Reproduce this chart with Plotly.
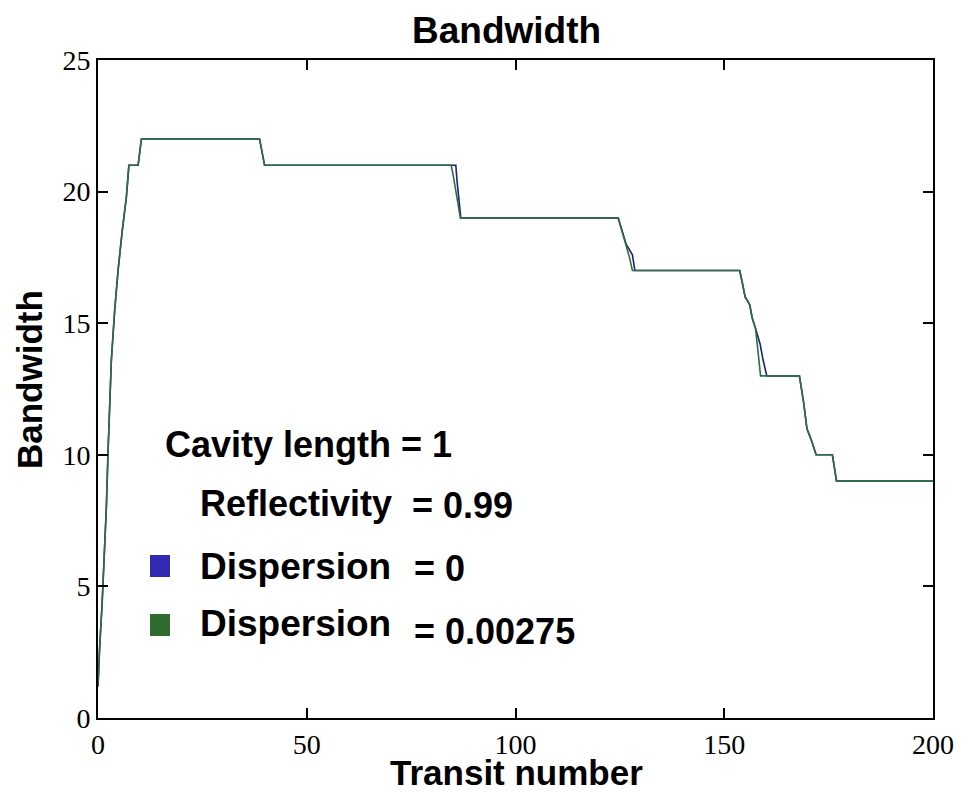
import plotly.graph_objects as go

# ---- data ----
green_x = [0, 0.2, 0.4, 1.0, 1.5, 2.0, 2.4, 2.8, 3.2, 4.0, 4.8, 5.8, 6.8, 7.4, 9.6, 10.4,
           38.7, 39.9, 84.6, 85.1, 85.6, 86.1, 86.8, 124.6, 125.5, 126.5, 127.3, 128.0,
           153.7, 154.4, 155.0, 156.1, 156.7, 157.5, 158.0, 158.7, 168.0, 169.0, 169.8,
           171.0, 172.0, 175.9, 176.9, 200]
green_y = [1.2, 2.0, 2.7, 4.4, 6.0, 8.0, 10.1, 11.8, 13.6, 15.5, 17.0, 18.5, 19.8, 21, 21, 22,
           22, 21, 21, 20.6, 20.1, 19.6, 19, 19, 18.5, 18, 17.5, 17,
           17, 16.5, 16, 15.7, 15.2, 14.8, 14, 13, 13, 12, 11,
           10.5, 10, 10, 9, 9]

blue_x = [0, 0.2, 0.4, 1.0, 1.5, 2.0, 2.4, 2.8, 3.2, 4.0, 4.8, 5.8, 6.8, 7.4, 9.6, 10.4,
          38.7, 39.9, 85.7, 86.0, 86.4, 86.9, 124.6, 125.5, 126.5, 128.0, 128.6,
          153.7, 154.4, 155.0, 156.1, 156.7, 157.5, 158.6, 159.3, 160.2, 168.0, 169.0, 169.8,
          171.0, 172.0, 175.9, 176.9, 200]
blue_y = [1.2, 2.0, 2.7, 4.4, 6.0, 8.0, 10.1, 11.8, 13.6, 15.5, 17.0, 18.5, 19.8, 21, 21, 22,
          22, 21, 21, 20.4, 19.8, 19, 19, 18.5, 18, 17.6, 17,
          17, 16.5, 16, 15.7, 15.2, 14.8, 14.2, 13.6, 13, 13, 12, 11,
          10.5, 10, 10, 9, 9]

x_ticks = [0, 50, 100, 150, 200]
y_ticks = [0, 5, 10, 15, 20, 25]

title_text = "Bandwidth"
x_title = "Transit number"
y_title = "Bandwidth"

BLUE_LINE = "#1e1e8a"
GREEN_LINE = "#2d6e3c"
BLUE_SQ = "#3329b5"
GREEN_SQ = "#2f6a2f"

fig = go.Figure()
fig.add_trace(go.Scatter(x=blue_x, y=blue_y, mode="lines",
                         line=dict(color=BLUE_LINE, width=1.6), name="Dispersion = 0"))
fig.add_trace(go.Scatter(x=green_x, y=green_y, mode="lines",
                         line=dict(color=GREEN_LINE, width=1.6), name="Dispersion = 0.00275"))

L, R, T, B = 98, 933, 60, 718
W, H = 968, 794
def px(xp):
    return (xp - L) / (R - L)
def py(yp):
    return (B - yp) / (B - T)

def bold(size):
    return dict(family="Liberation Sans, Arial, sans-serif", size=size, color="black", weight="bold")

ann = [
    dict(text="Cavity length = 1", x=px(163), y=py(444), xanchor="left", font=bold(36)),
    dict(text="Reflectivity", x=px(198), y=py(503), xanchor="left", font=bold(36)),
    dict(text="= 0.99", x=px(410), y=py(505), xanchor="left", font=bold(36)),
    dict(text="Dispersion", x=px(198), y=py(566), xanchor="left", font=bold(37)),
    dict(text="= 0", x=px(412), y=py(568), xanchor="left", font=bold(36)),
    dict(text="Dispersion", x=px(198), y=py(623), xanchor="left", font=bold(37)),
    dict(text="= 0.00275", x=px(412), y=py(631), xanchor="left", font=bold(36)),
    dict(text=x_title, x=px(516), y=py(794), xanchor="center", yanchor="bottom", font=bold(35)),
    dict(text=y_title, x=px(30), y=py(380), xanchor="center", textangle=-90, font=bold(35)),
    dict(text=title_text, x=px(506), y=py(30), xanchor="center", font=bold(37)),
]
annotations = []
for a in ann:
    d = dict(xref="paper", yref="paper", showarrow=False, yanchor="middle")
    d.update(a)
    annotations.append(d)

shapes = [
    dict(type="rect", xref="paper", yref="paper", x0=px(150), x1=px(170), y0=py(577), y1=py(555),
         fillcolor=BLUE_SQ, line=dict(width=0)),
    dict(type="rect", xref="paper", yref="paper", x0=px(150), x1=px(170), y0=py(636), y1=py(614),
         fillcolor=GREEN_SQ, line=dict(width=0)),
]

tickfont = dict(family="Liberation Serif, Times New Roman, serif", size=28, color="black")

fig.update_layout(
    width=W, height=H,
    margin=dict(l=L, r=W - R, t=T, b=H - B),
    paper_bgcolor="white", plot_bgcolor="white",
    showlegend=False,
    annotations=annotations,
    shapes=shapes,
    xaxis=dict(range=[0, 200], tickvals=x_ticks, ticks="inside", ticklen=10, tickwidth=1.5,
               tickcolor="black", showline=True, linecolor="black", linewidth=2, mirror="ticks",
               showgrid=False, zeroline=False, tickfont=tickfont, ticklabelstandoff=0),
    yaxis=dict(range=[0, 25], tickvals=y_ticks, ticks="inside", ticklen=10, tickwidth=1.5,
               tickcolor="black", showline=True, linecolor="black", linewidth=2, mirror="ticks",
               showgrid=False, zeroline=False, tickfont=tickfont),
)

fig.write_html("out.html")
